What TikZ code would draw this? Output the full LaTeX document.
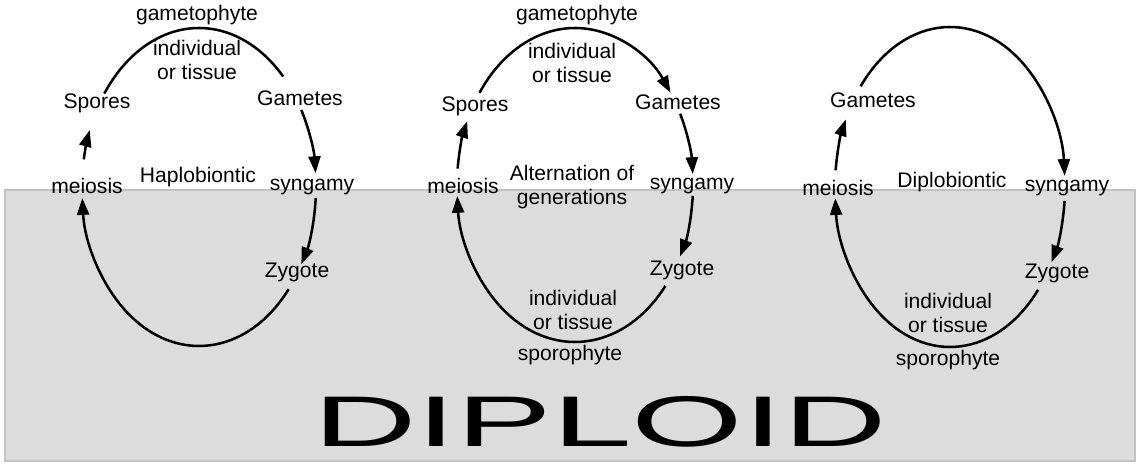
\documentclass[tikz,border=0pt]{standalone}
\usepackage{fontspec}
\setmainfont{Liberation Sans}
\usetikzlibrary{arrows.meta,calc}
\definecolor{bandgray}{HTML}{DCDCDC}
\definecolor{bandedge}{HTML}{C2C2C2}

\begin{document}
\begin{tikzpicture}[x=0.025cm, y=-0.025cm, >={Triangle[length=4.2mm,width=3mm]},
  every node/.style={font=\fontsize{15}{17.5}\selectfont, align=center, inner sep=1pt},
  cycle/.style={line width=1.8pt}]

\useasboundingbox (0,0) rectangle (1139,464);

% Diploid band
\filldraw[fill=bandgray, draw=bandedge, line width=1pt] (5,190) rectangle (1135,461);
\node[font=\fontsize{51}{51}\selectfont, xscale=2.0] (diploid) at (600,422) {DIPLOID};

% Haplobiontic
\coordinate (hc) at (199,187);
\node (h-gph) at (197,15) {gametophyte};
\node (h-ind) at (197,60) {individual\\or tissue};
\node (h-sp) at (97,103) {Spores};
\node (h-ga) at (300,98) {Gametes};
\node (h-me) at (87,186) {meiosis};
\node (h-title) at (198,177) {Haplobiontic};
\node (h-sy) at (312,187) {syngamy};
\node (h-zy) at (297,272) {Zygote};

\coordinate (h1) at ($(hc)+(-144:117 and 159)$);
\coordinate (h2) at ($(hc)+(-29:117 and 159)$);
\coordinate (h3) at ($(hc)+(4:117 and 159)$);
\coordinate (h4) at ($(hc)+(40:117 and 159)$);
\coordinate (h5) at ($(hc)+(190:117 and 159)$);

\draw[cycle] (h1) arc[start angle=-144, end angle=-44, x radius=117, y radius=159];
\draw[cycle, ->] (h2) arc[start angle=-29, end angle=-5, x radius=117, y radius=159];
\draw[cycle, ->] (h3) arc[start angle=4, end angle=29, x radius=117, y radius=159];
\draw[cycle, ->] (h4) arc[start angle=40, end angle=176, x radius=117, y radius=159];
\draw[cycle, ->] (h5) arc[start angle=190, end angle=201, x radius=117, y radius=159];

% Alternation of generations
\coordinate (mc) at (575,185);
\node (m-gph) at (577,15) {gametophyte};
\node (m-ind) at (572,63) {individual\\or tissue};
\node (m-sp) at (475,106) {Spores};
\node (m-ga) at (678,102) {Gametes};
\node (m-me) at (463,186) {meiosis};
\node (m-title) at (572,187) {Alternation of\\generations};
\node (m-sy) at (692,186) {syngamy};
\node (m-zy) at (682,270) {Zygote};
\node (m-ind2) at (573,310) {individual\\or tissue};
\node (m-sph) at (570,355) {sporophyte};

\coordinate (m1) at ($(mc)+(-144:118 and 157)$);
\coordinate (m2) at ($(mc)+(-27:118 and 157)$);
\coordinate (m3) at ($(mc)+(4:118 and 157)$);
\coordinate (m4) at ($(mc)+(40:118 and 157)$);
\coordinate (m5) at ($(mc)+(186:118 and 157)$);

\draw[cycle, ->] (m1) arc[start angle=-144, end angle=-36, x radius=118, y radius=157];
\draw[cycle, ->] (m2) arc[start angle=-27, end angle=-4, x radius=118, y radius=157];
\draw[cycle, ->] (m3) arc[start angle=4, end angle=27, x radius=118, y radius=157];
\draw[cycle, ->] (m4) arc[start angle=40, end angle=176, x radius=118, y radius=157];
\draw[cycle, ->] (m5) arc[start angle=186, end angle=204, x radius=118, y radius=157];

% Diplobiontic
\coordinate (dc) at (950,187);
\node (d-ga) at (873,100) {Gametes};
\node (d-title) at (952,182) {Diplobiontic};
\node (d-me) at (838,188) {meiosis};
\node (d-sy) at (1067,188) {syngamy};
\node (d-zy) at (1057,273) {Zygote};
\node (d-ind) at (948,313) {individual\\or tissue};
\node (d-sph) at (948,360) {sporophyte};

\coordinate (d1) at ($(dc)+(-141:115 and 160)$);
\coordinate (d2) at ($(dc)+(5:115 and 160)$);
\coordinate (d3) at ($(dc)+(40:115 and 160)$);
\coordinate (d4) at ($(dc)+(186:115 and 160)$);

\draw[cycle, ->] (d1) arc[start angle=-141, end angle=-4, x radius=115, y radius=160];
\draw[cycle, ->] (d2) arc[start angle=5, end angle=28, x radius=115, y radius=160];
\draw[cycle, ->] (d3) arc[start angle=40, end angle=176, x radius=115, y radius=160];
\draw[cycle, ->] (d4) arc[start angle=186, end angle=205, x radius=115, y radius=160];

\end{tikzpicture}
\end{document}
